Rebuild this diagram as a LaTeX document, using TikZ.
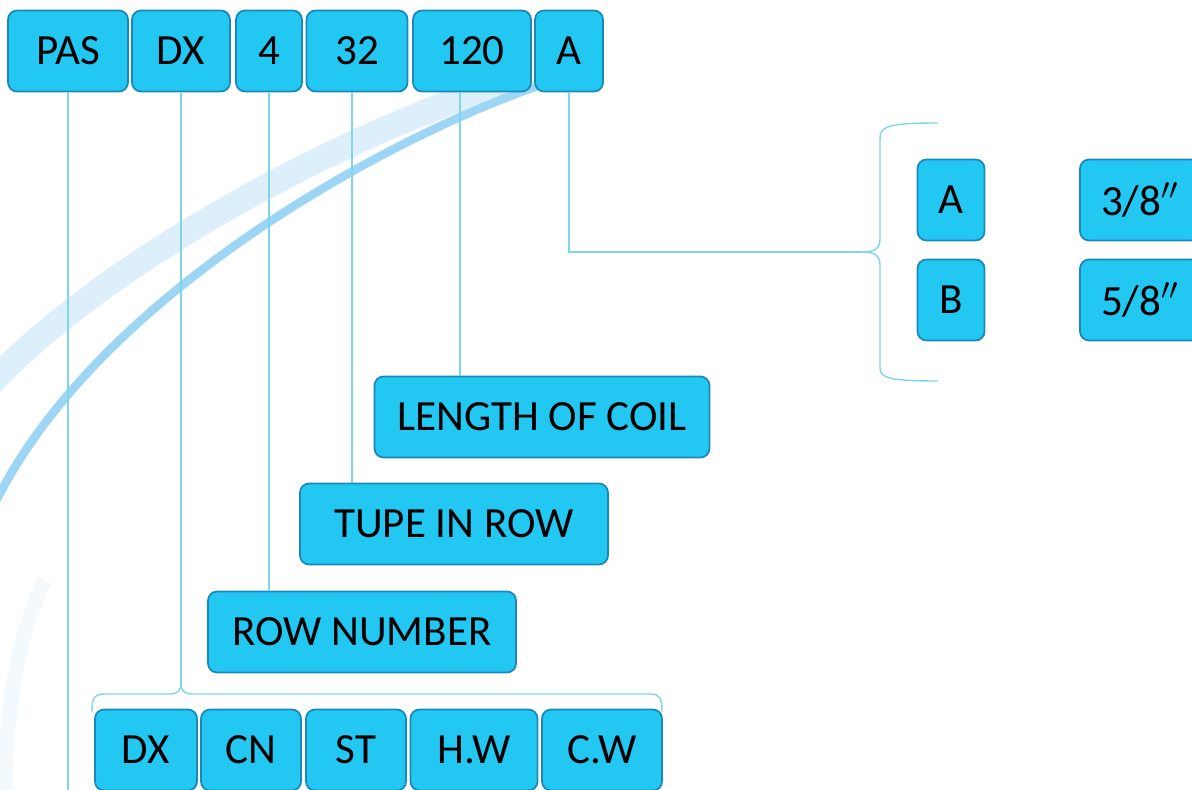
\documentclass[tikz,border=0pt]{standalone}
\usepackage{fontspec}
\setmainfont{Carlito}

\definecolor{boxfill}{HTML}{22C8F2}
\definecolor{boxline}{HTML}{1A88B8}
\definecolor{wire}{HTML}{7ED6E8}
\definecolor{swoosh}{HTML}{9CD6F4}
\definecolor{paleswoosh}{HTML}{DCEFFA}

\begin{document}
\begin{tikzpicture}[x=0.02cm, y=-0.02cm]

        \useasboundingbox (0,0) rectangle (1192,790);
        \clip (0,0) rectangle (1192,790);

        % background swooshes
        \draw[paleswoosh, line width=0.5cm] (505,84) .. controls (380,120) and (110,250) .. (-20,395);
        \draw[swoosh, line width=0.17cm] (550,82) .. controls (400,130) and (80,300) .. (-15,525);
        \draw[paleswoosh!35, line width=0.3cm] (45,580) .. controls (15,640) and (5,720) .. (5,800);

        \begin{scope}[every node/.style={draw=boxline, fill=boxfill, rounded corners=0.18cm,
            line width=1pt, minimum height=1.62cm, inner sep=0pt, font=\fontsize{24.5}{28}\selectfont}]
          % code
          \node[minimum width=2.4cm]  (pas)  at (68,51)  {PAS};
          \node[minimum width=1.96cm] (dx)   at (181,51) {DX};
          \node[minimum width=1.32cm] (four) at (269,51) {4};
          \node[minimum width=2.02cm] (tt)   at (357,51) {32};
          \node[minimum width=2.36cm] (len)  at (472,51) {120};
          \node[minimum width=1.36cm] (a)    at (569,51) {A};

          % meanings
          \node[minimum width=6.7cm]  (coil)   at (542,417) {LENGTH OF COIL};
          \node[minimum width=6.16cm] (tupe)   at (454,524) {TUPE IN ROW};
          \node[minimum width=6.16cm] (rownum) at (362,632) {ROW NUMBER};

          % types
          \node[minimum width=2.04cm] (bdx) at (146,750) {DX};
          \node[minimum width=2.0cm]  (cn)  at (251,750) {CN};
          \node[minimum width=2.0cm]  (st)  at (356,750) {ST};
          \node[minimum width=2.54cm] (hw)  at (474,750) {H.W};
          \node[minimum width=2.4cm]  (cw)  at (602,750) {C.W};

          % sizes
          \node[minimum width=1.34cm] (ra)  at (951,200)  {A};
          \node[minimum width=1.34cm] (rb)  at (951,300)  {B};
          \node[minimum width=2.4cm]  (r38) at (1140,200) {3/8$''$};
          \node[minimum width=2.4cm]  (r58) at (1140,300) {5/8$''$};
        \end{scope}

        \begin{scope}[every path/.style={draw=wire, line width=0.8pt}]
          \coordinate (pasend) at (68,790);
          \coordinate (tipb) at (181,684);
          \coordinate (tipr) at (862,252);
          \coordinate (ttfoot) at (352,92);
          \coordinate (lenfoot) at (460,92);

          \path (pas.south) -- (pasend);
          \path (dx.south) -- (tipb);
          \path (four.south) -- (rownum.north -| four.south);
          \path (ttfoot) -- (tupe.north -| ttfoot);
          \path (lenfoot) -- (coil.north -| lenfoot);
          \path (a.south) |- (tipr);

          % braces
          \path (92,712) .. controls (92,698) and (94,694) .. (104,694) -- (170,694)
                .. controls (178,694) and (181,690) .. (tipb)
                .. controls (181,690) and (184,694) .. (192,694) -- (650,694)
                .. controls (660,694) and (662,698) .. (662,712);
          \path (938,123) .. controls (890,123) and (880,126) .. (880,138) -- (880,238)
                .. controls (880,248) and (876,252) .. (tipr)
                .. controls (876,252) and (880,256) .. (880,266) -- (880,368)
                .. controls (880,378) and (890,381) .. (938,381);
        \end{scope}

      \end{tikzpicture}
\end{document}
